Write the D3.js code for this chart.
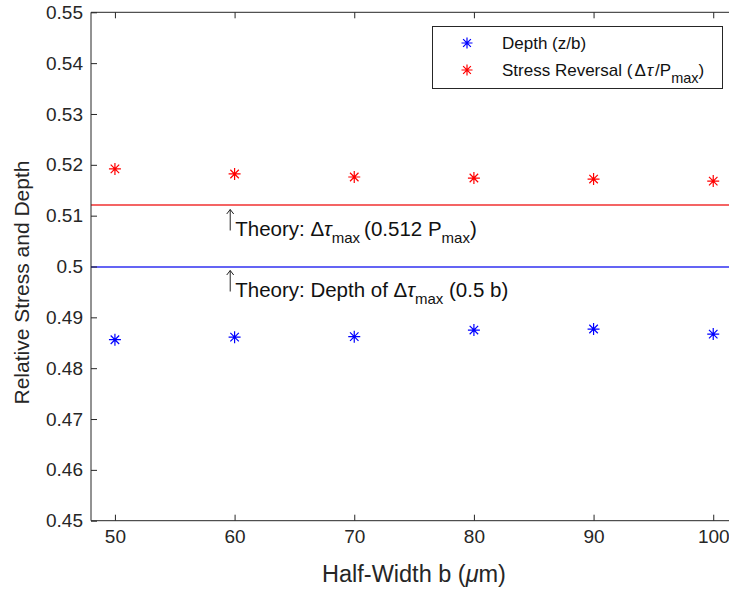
<!DOCTYPE html>
<html>
<head>
<meta charset="utf-8">
<script src="https://cdn.jsdelivr.net/npm/d3@7"></script>
<style>
  html, body { margin: 0; padding: 0; background: #fff; }
  svg { display: block; font-family: "Liberation Sans", Arial, sans-serif; }
</style>
</head>
<body>
<svg id="chart" width="729" height="592"></svg>
<script>
// Half-width of the contact (µm)
const halfWidths = [50, 60, 70, 80, 90, 100];
// Depth of maximum stress reversal, normalised by b
const depthValues = [0.4856, 0.4861, 0.4862, 0.4875, 0.4877, 0.4867];
// Maximum stress reversal, normalised by Pmax
const stressValues = [0.5192, 0.5182, 0.5176, 0.5174, 0.5172, 0.5168];
// Theoretical reference levels
const theoryStress = 0.512;
const theoryDepth = 0.5;
const xTicks = [50, 60, 70, 80, 90, 100];
const yTicks = [0.45, 0.46, 0.47, 0.48, 0.49, 0.5, 0.51, 0.52, 0.53, 0.54, 0.55];

const svg = d3.select("#chart");
const plotLeft = 91, plotTop = 12.3, plotBottom = 520.7;
const x = d3.scaleLinear().domain([48, 102]).range([plotLeft, plotLeft + (102 - 48) * 11.966]);
const y = d3.scaleLinear().domain([0.45, 0.55]).range([plotBottom, plotTop]);
const plotRight = x(102);
const axisCol = "#262626";
const tickLen = 6;

// Reference lines (thin, straddling two pixel rows so the colour stays visible)
const refLine = (val, col) => svg.append("line")
  .attr("x1", plotLeft).attr("x2", plotRight)
  .attr("y1", Math.round(y(val))).attr("y2", Math.round(y(val)))
  .attr("stroke", col).attr("stroke-width", 1.3);
refLine(theoryStress, "#f03030");
refLine(theoryDepth, "#3030f0");

// Axes with inward ticks (box style)
const yAxis = d3.axisLeft(y).tickValues(yTicks).tickSize(-tickLen).tickPadding(8)
  .tickFormat(d => (Math.abs(d - 0.5) < 1e-9 ? "0.5" : d3.format(".2f")(d)));
const xAxis = d3.axisBottom(x).tickValues(xTicks).tickSize(-tickLen).tickPadding(9)
  .tickFormat(d3.format("d"));
const xTop = d3.axisTop(x).tickValues(xTicks).tickSize(-tickLen).tickFormat("");

const gy = svg.append("g").attr("transform", `translate(${plotLeft},0)`).call(yAxis);
const gx = svg.append("g").attr("transform", `translate(0,${plotBottom})`).call(xAxis);
const gt = svg.append("g").attr("transform", `translate(0,${plotTop})`).call(xTop);
[gy, gx, gt].forEach(g => {
  g.select(".domain").attr("stroke", axisCol).attr("stroke-width", 1);
  g.selectAll(".tick line").attr("stroke", axisCol);
  g.selectAll(".tick text").attr("fill", axisCol).attr("font-size", 19)
    .attr("font-family", "Liberation Sans, Arial, sans-serif");
});
gy.select(".domain").attr("d", `M0,${plotTop}V${plotBottom}`);
gx.select(".domain").attr("d", `M${plotLeft},0H${plotRight}`);
gt.select(".domain").attr("d", `M${plotLeft},0H${plotRight}`);

// Axis titles
svg.append("text").attr("x", 414).attr("y", 582).attr("text-anchor", "middle")
  .attr("font-size", 23.5).attr("fill", axisCol)
  .html('Half-Width b (<tspan font-style="italic">μ</tspan>m)');
svg.append("text").attr("transform", `translate(29,${(plotTop + plotBottom) / 2 + 16}) rotate(-90)`)
  .attr("text-anchor", "middle").attr("font-size", 21).attr("fill", axisCol)
  .text("Relative Stress and Depth");

// Asterisk marker
const star = (r) => {
  const d = r * Math.SQRT1_2;
  return `M${-r},0H${r}M0,${-r}V${r}M${-d},${-d}L${d},${d}M${-d},${d}L${d},${-d}`;
};
const drawStars = (vals, col) => svg.append("g").selectAll("path")
  .data(halfWidths.map((h, i) => [h, vals[i]])).join("path")
  .attr("transform", d => `translate(${x(d[0])},${y(d[1])})`)
  .attr("d", star(6)).attr("stroke", col).attr("stroke-width", 1.2).attr("fill", "none");
drawStars(depthValues, "#0000ff");
drawStars(stressValues, "#ff0000");

// Annotations: up-arrow pointer followed by the label
const ann = (val, yOff, parts) => {
  const g = svg.append("g");
  const ax = x(59.3) + 4, ay = y(val) + 4;
  g.append("path").attr("d", `M${ax},${ay + 21}V${ay}M${ax - 3.5},${ay + 4.5}L${ax},${ay}L${ax + 3.5},${ay + 4.5}`)
    .attr("stroke", "#222").attr("stroke-width", 1).attr("fill", "none");
  g.append("text").attr("x", ax + 5).attr("y", y(val) + yOff)
    .attr("font-size", 20.5).attr("fill", "#111").html(parts);
};
ann(theoryStress, 31,
  'Theory: Δ<tspan font-style="italic">τ</tspan>' +
  '<tspan font-size="15" dy="7">max</tspan><tspan dy="-7" dx="4">(0.512 P</tspan>' +
  '<tspan font-size="15" dy="7">max</tspan><tspan dy="-7">)</tspan>');
ann(theoryDepth, 30,
  'Theory: Depth of Δ<tspan font-style="italic">τ</tspan>' +
  '<tspan font-size="15" dy="7">max</tspan><tspan dy="-7"> (0.5 b)</tspan>');

// Legend
const lg = svg.append("g");
lg.append("rect").attr("x", 432.5).attr("y", 26.5).attr("width", 290).attr("height", 62)
  .attr("fill", "#fff").attr("stroke", axisCol).attr("stroke-width", 1);
const legendItems = [
  { col: "#0000ff", html: "Depth (z/b)", yy: 43 },
  { col: "#ff0000", html: 'Stress Reversal (<tspan dx="2">Δ</tspan><tspan font-style="italic" dx="1">τ</tspan><tspan dx="2">/P</tspan><tspan font-size="14.5" dy="7">max</tspan><tspan dy="-7">)</tspan>', yy: 70 }
];
legendItems.forEach(it => {
  lg.append("path").attr("transform", `translate(467,${it.yy})`).attr("d", star(5.5))
    .attr("stroke", it.col).attr("stroke-width", 1.2).attr("fill", "none");
  lg.append("text").attr("x", 502).attr("y", it.yy + 5.5).attr("font-size", 17)
    .attr("fill", "#111").html(it.html);
});
</script>
</body>
</html>
